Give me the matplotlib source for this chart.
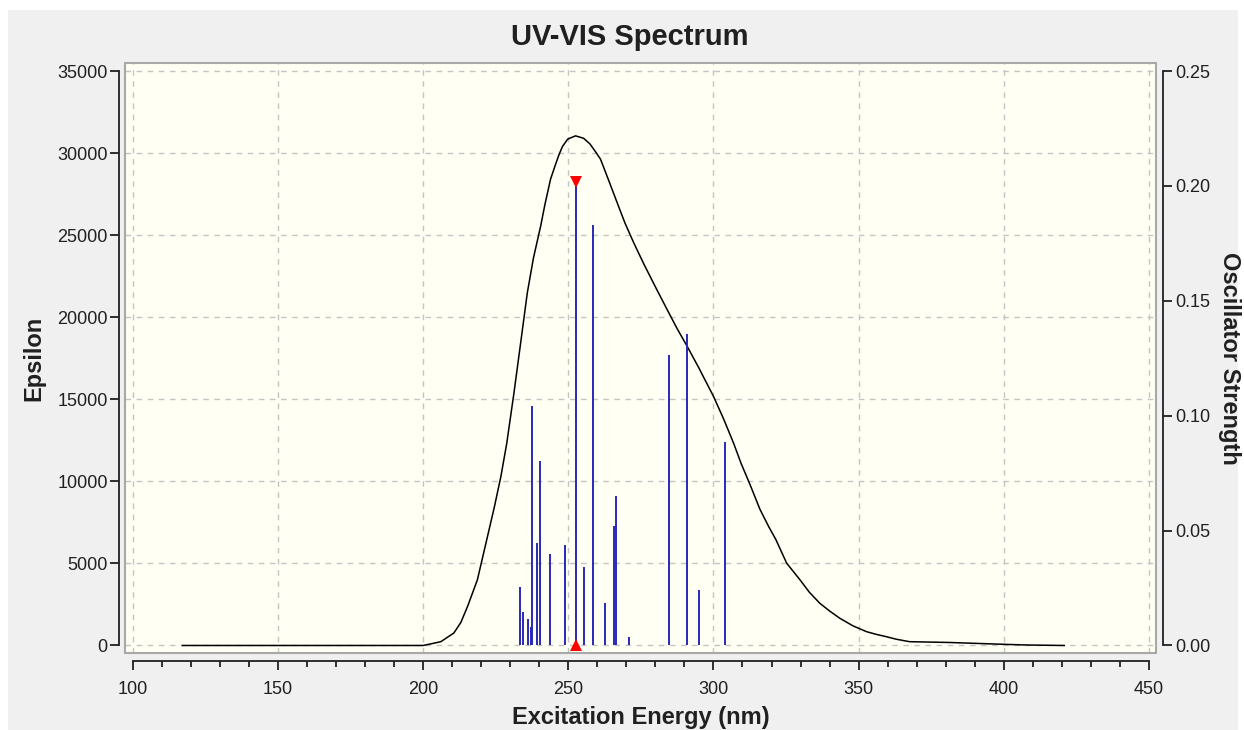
import matplotlib
matplotlib.use("Agg")
import matplotlib.pyplot as plt
from matplotlib.patches import Rectangle
from matplotlib.ticker import MultipleLocator
import numpy as np

# ---- data ----
# broadened spectrum (Epsilon vs wavelength)
curve_nm = [117.1, 200.0, 202.7, 206.1, 210.6, 213.0, 215.3, 218.7, 222.0, 224.5,
            226.8, 228.8, 231.3, 233.5, 235.9, 238.0, 240.5, 242.0, 243.9, 245.5,
            246.8, 248.0, 249.8, 252.5, 255.3, 257.5, 259.5, 261.1, 264.0, 267.0,
            269.5, 272.5, 276.0, 280.0, 284.0, 287.5, 290.9, 295.0, 300.0, 303.5,
            306.9, 309.5, 312.6, 316.0, 319.0, 321.5, 325.2, 329.8, 333.0, 336.6,
            340.0, 343.5, 348.0, 352.7, 356.0, 359.5, 363.0, 367.5, 381.3, 398.5,
            407.6, 420.8]
curve_eps = [0, 0, 100, 230, 760, 1400, 2370, 4000, 6500, 8400,
             10300, 12300, 15390, 18300, 21490, 23600, 25560, 26900, 28410, 29250,
             29900, 30400, 30850, 31050, 30900, 30550, 30050, 29630, 28300, 26900,
             25750, 24550, 23250, 21850, 20480, 19300, 18240, 16900, 15180, 13800,
             12340, 11100, 9800, 8300, 7250, 6450, 5017, 4000, 3250, 2575,
             2100, 1660, 1200, 842, 680, 537, 380, 232, 183, 80,
             30, 0]

# individual transitions (oscillator strength)
trans_nm = [233.5, 234.5, 236.1, 237.2, 237.6, 239.1, 240.3, 243.8, 248.9, 252.5,
            255.5, 258.6, 262.7, 265.8, 266.3, 270.9, 284.7, 290.9, 295.0, 304.1]
trans_f = [0.0256, 0.0145, 0.0114, 0.0082, 0.1041, 0.0446, 0.0801, 0.0399, 0.0438, 0.2015,
           0.0341, 0.1832, 0.0184, 0.0518, 0.0652, 0.0036, 0.1262, 0.1354, 0.0242, 0.0884]

x_ticks = [100, 150, 200, 250, 300, 350, 400, 450]
eps_ticks = [0, 5000, 10000, 15000, 20000, 25000, 30000, 35000]
f_ticks = [0.00, 0.05, 0.10, 0.15, 0.20, 0.25]

title = "UV-VIS Spectrum"
xlabel = "Excitation Energy (nm)"
ylabel_left = "Epsilon"
ylabel_right = "Oscillator Strength"

# ---- figure ----
plt.rcParams['font.family'] = ['Liberation Sans', 'DejaVu Sans']
W, H = 1244, 730
fig = plt.figure(figsize=(W / 100, H / 100), dpi=100, facecolor='white')
fig.patches.append(Rectangle((8 / W, 0), (1238 - 8) / W, (H - 10) / H,
                             transform=fig.transFigure, facecolor='#F0F0F0',
                             edgecolor='none', zorder=-10))

left_px, right_px, top_px, bot_px = 125, 1156, 63, 653
ax = fig.add_axes([left_px / W, 1 - bot_px / H, (right_px - left_px) / W, (bot_px - top_px) / H])
ax.set_facecolor('#FFFFF4')

ax.set_xlim(97.35, 452.4)
ax.set_ylim(-458, 35488)

ax.plot(curve_nm, curve_eps, color='black', lw=1.1, zorder=3)

ax.set_xticks(x_ticks)
ax.xaxis.set_minor_locator(MultipleLocator(10))
ax.set_yticks(eps_ticks)
ax.grid(True, which='major', color='#C4C4C4', linestyle=(0, (4, 4)), lw=1.0)
ax.set_axisbelow(True)

for s in ['top', 'right']:
    ax.spines[s].set_visible(False)
ax.spines['left'].set_position(('outward', 4))
ax.spines['left'].set_bounds(0, 35000)
ax.spines['bottom'].set_position(('outward', 6))
ax.spines['bottom'].set_bounds(100, 450)
for s in ['left', 'bottom']:
    ax.spines[s].set_linewidth(1.3)
    ax.spines[s].set_color('#202020')

ax.tick_params(axis='y', which='major', length=6.5, width=1.3, labelsize=13, pad=2, colors='#202020')
ax.tick_params(axis='x', which='major', length=6.5, width=1.3, labelsize=13, pad=8, colors='#202020')
ax.tick_params(axis='x', which='minor', length=4, width=1.3, colors='#202020')

# box border
ax.add_patch(Rectangle((0, 0), 1, 1, transform=ax.transAxes, fill=False,
                       edgecolor='#A8A8A8', lw=1.5, clip_on=False, zorder=5))

# twin axis for oscillator strengths
ax2 = ax.twinx()
y0, y1 = ax.get_ylim()
ax2.set_ylim(y0 * 0.25 / 35000, y1 * 0.25 / 35000)
ax2.vlines(trans_nm, 0, trans_f, color='#2828B8', lw=1.4, zorder=4)
imax = int(np.argmax(trans_f))
ax2.plot([trans_nm[imax]], [trans_f[imax]], marker='v', color='#FF0000', ms=8.5,
         markeredgewidth=0, zorder=6, clip_on=False)
ax2.plot([trans_nm[imax]], [0], marker='^', color='#FF0000', ms=8.5,
         markeredgewidth=0, zorder=6, clip_on=False)
ax2.set_yticks(f_ticks)
ax2.set_yticklabels([f"{v:.2f}" for v in f_ticks])
for s in ['top', 'left', 'bottom']:
    ax2.spines[s].set_visible(False)
ax2.spines['right'].set_position(('outward', 5))
ax2.spines['right'].set_bounds(0, 0.25)
ax2.spines['right'].set_linewidth(1.3)
ax2.spines['right'].set_color('#202020')
ax2.tick_params(axis='y', length=6.5, width=1.3, labelsize=13, pad=2, colors='#202020')

# labels
ax.set_xlabel(xlabel, fontsize=17, fontweight='bold', color='#202020')
ax.xaxis.set_label_coords(0.5005, -0.089)
ax.set_ylabel(ylabel_left, fontsize=17, fontweight='bold', color='#202020')
ax.yaxis.set_label_coords(-0.077, 0.5)
ax2.set_ylabel(ylabel_right, fontsize=17, fontweight='bold', rotation=270, color='#202020')
ax2.yaxis.set_label_coords(1.082, 0.5)

fig.text(630 / W, 1 - 37 / H, title, ha='center', va='center', fontsize=21,
         fontweight='bold', color='#202020')

fig.savefig('out.png', dpi=100, facecolor=fig.get_facecolor())
